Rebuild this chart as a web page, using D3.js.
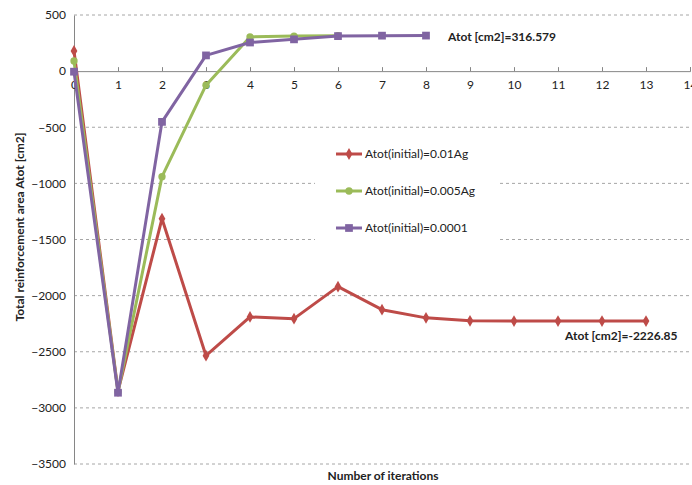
<!DOCTYPE html>
<html>
<head>
<meta charset="utf-8">
<script src="https://cdn.jsdelivr.net/npm/d3@7"></script>
<style>
  body { margin: 0; background: #fff; }
  text { font-family: Lato, "Open Sans", sans-serif; }
</style>
</head>
<body>
<svg id="chart"></svg>
<script>
// iterations and the three runs
const iterRed = [0, 1, 2, 3, 4, 5, 6, 7, 8, 9, 10, 11, 12, 13];
const valRed = [180, -2850, -1315, -2535, -2190, -2205, -1920, -2125, -2198, -2224, -2226.5, -2226.8, -2226.85, -2226.85];
const iterGreen = [0, 1, 2, 3, 4, 5, 6];
const valGreen = [90, -2858, -940, -125, 305, 312, 316];
const iterPurple = [0, 1, 2, 3, 4, 5, 6, 7, 8];
const valPurple = [-5, -2865, -452, 140, 255, 283, 312, 316, 316.579];

const seriesNames = ["Atot(initial)=0.01Ag", "Atot(initial)=0.005Ag", "Atot(initial)=0.0001"];
const seriesColors = ["#BE4B48", "#9BBB59", "#8064A2"];
const yTicks = [500, 0, -500, -1000, -1500, -2000, -2500, -3000, -3500];
const xTicks = d3.range(0, 15);

let width = 692;
let height = 485;

let svg = d3.select('#chart')
  .attr('width', width)
  .attr('height', height);

let x = d3.scaleLinear().domain([0, 14]).range([74, 690]);
let y = d3.scaleLinear().domain([-3500, 500]).range([464, 15]);

// gridlines
svg.append('g')
  .selectAll('line')
  .data(yTicks.filter(d => d !== 0))
  .enter()
  .append('line')
  .attr('x1', x(0)).attr('x2', x(14))
  .attr('y1', d => y(d)).attr('y2', d => y(d))
  .attr('stroke', '#A6A6A6')
  .attr('stroke-dasharray', '3,3')
  .attr('stroke-width', 1);

// y axis
let yAxis = svg.append('g')
  .attr('transform', 'translate(' + x(0) + ',0)')
  .call(d3.axisLeft(y).tickValues(yTicks).tickSize(0).tickPadding(8).tickFormat(d3.format('d')));
yAxis.select('.domain').attr('stroke', '#868686');
yAxis.selectAll('text').attr('font-size', 12).attr('fill', '#222');

// x axis at zero
let xAxis = svg.append('g')
  .attr('transform', 'translate(0,' + y(0) + ')')
  .call(d3.axisTop(x).tickValues(xTicks).tickSize(4).tickFormat(d3.format('d')));
xAxis.select('.domain').attr('stroke', '#868686');
xAxis.selectAll('line').attr('stroke', '#868686');
xAxis.selectAll('text')
  .attr('y', 18)
  .attr('dy', '0')
  .attr('font-size', 12)
  .attr('fill', '#222');

// legend background
let legX = 315, legY = 136;
svg.append('rect')
  .attr('x', legX).attr('y', legY)
  .attr('width', 185).attr('height', 110)
  .attr('fill', '#fff');

const series = [
  { xs: iterRed, ys: valRed, shape: d3.symbolDiamond, size: 40 },
  { xs: iterGreen, ys: valGreen, shape: d3.symbolCircle, size: 42 },
  { xs: iterPurple, ys: valPurple, shape: d3.symbolSquare, size: 60 }
];

let line = d3.line().x(d => x(d[0])).y(d => y(d[1]));

series.forEach((s, i) => {
  let pts = s.xs.map((v, j) => [v, s.ys[j]]);
  let g = svg.append('g');
  g.append('path')
    .datum(pts)
    .attr('d', line)
    .attr('fill', 'none')
    .attr('stroke', seriesColors[i])
    .attr('stroke-width', 3)
    .attr('stroke-linejoin', 'round');
  g.selectAll('path.m')
    .data(pts)
    .enter()
    .append('path')
    .attr('class', 'm')
    .attr('d', d3.symbol().type(s.shape).size(s.size))
    .attr('transform', d => 'translate(' + x(d[0]) + ',' + y(d[1]) + ')')
    .attr('fill', seriesColors[i]);
});

// legend
series.forEach((s, i) => {
  let ly = 154 + i * 37;
  svg.append('line')
    .attr('x1', 336).attr('x2', 362)
    .attr('y1', ly).attr('y2', ly)
    .attr('stroke', seriesColors[i]).attr('stroke-width', 3);
  svg.append('path')
    .attr('d', d3.symbol().type(s.shape).size(s.size))
    .attr('transform', 'translate(349,' + ly + ')')
    .attr('fill', seriesColors[i]);
  svg.append('text')
    .attr('x', 365).attr('y', ly + 4)
    .attr('font-size', 12)
    .attr('fill', '#222')
    .text(seriesNames[i]);
});

// annotations
svg.append('text')
  .attr('x', 448).attr('y', 41)
  .attr('font-size', 12).attr('font-weight', 'bold').attr('fill', '#222')
  .text('Atot [cm2]=316.579');
svg.append('text')
  .attr('x', 565).attr('y', 340)
  .attr('font-size', 12).attr('font-weight', 'bold').attr('fill', '#222')
  .text('Atot [cm2]=-2226.85');

// axis titles
svg.append('text')
  .attr('x', 383).attr('y', 480)
  .attr('text-anchor', 'middle')
  .attr('font-size', 12).attr('font-weight', 'bold').attr('fill', '#222')
  .text('Number of iterations');
svg.append('text')
  .attr('transform', 'translate(24,' + 227 + ') rotate(-90)')
  .attr('text-anchor', 'middle')
  .attr('font-size', 12).attr('font-weight', 'bold').attr('fill', '#222')
  .text('Total reinforcement area Atot [cm2]');
</script>
</body>
</html>
